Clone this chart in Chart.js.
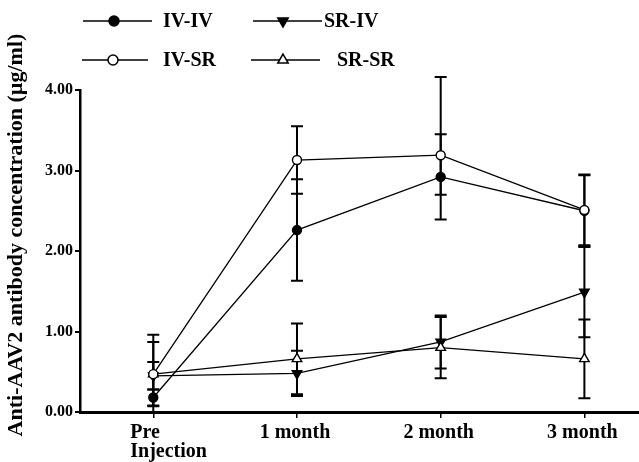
<!DOCTYPE html>
<html>
<head>
<meta charset="utf-8">
<script src="https://cdn.jsdelivr.net/npm/chart.js@4"></script>
<style>
  html, body { margin: 0; padding: 0; background: #fff; }
  #wrap { width: 639px; height: 462px; position: relative; }
</style>
</head>
<body>
<div id="wrap"><canvas id="myChart" width="639" height="462"></canvas></div>
<script>
'use strict';
//Data
const categories = [['Pre', 'Injection'], '1 month', '2 month', '3 month'];
const yTicks = [0, 1, 2, 3, 4];
const seriesNames = ['IV-IV', 'SR-IV', 'IV-SR', 'SR-SR'];
const ivIv = [0.18, 2.26, 2.92, 2.50];
const ivIvErr = [0.10, 0.63, 0.53, 0.44];
const srIv = [0.45, 0.48, 0.87, 1.49];
const srIvErr = [0.17, 0.28, 0.33, 0.56];
const ivSr = [0.47, 3.13, 3.19, 2.51];
const ivSrErrDown = [0.49, 0.42, 0.49, 0.44];
const ivSrErrUp = [0.49, 0.42, 0.97, 0.44];
const srSr = [0.47, 0.66, 0.80, 0.66];
const srSrErr = [0.40, 0.44, 0.38, 0.49];

const FONT = '"Liberation Serif", "Times New Roman", serif';
const chart_myChart = document.getElementById('myChart').getContext('2d');

function toPoints(values){
  return values.map((v, i) => ({x: i, y: v}));
}

function makeSet(label, values, errDown, errUp, style, fill, rotation, radius, order){
  return {
    label: label,
    data: toPoints(values),
    errDown: errDown,
    errUp: errUp,
    order: order,
    borderColor: '#000',
    borderWidth: 1.3,
    pointStyle: style,
    pointRotation: rotation,
    pointRadius: radius,
    pointBackgroundColor: fill,
    pointBorderColor: '#000',
    pointBorderWidth: 1.4,
    fill: false,
    tension: 0,
    clip: false
  };
}

//Error bars under the markers
const errorBars = {
  id: 'errorBars',
  beforeDatasetsDraw(chart){
    const ctx = chart.ctx;
    const xs = chart.scales.x;
    const ys = chart.scales.y;
    ctx.save();
    ctx.strokeStyle = '#000';
    ctx.lineWidth = 2;
    chart.data.datasets.forEach(ds => {
      ds.data.forEach((p, i) => {
        const low = p.y - ds.errDown[i];
        const x = xs.getPixelForValue(p.x);
        const top = ys.getPixelForValue(p.y + ds.errUp[i]);
        const bot = ys.getPixelForValue(Math.max(0, low));
        ctx.beginPath();
        ctx.moveTo(x, top);
        ctx.lineTo(x, bot);
        ctx.moveTo(x - 6, top);
        ctx.lineTo(x + 6, top);
        if (low > 0){
          ctx.moveTo(x - 6, bot);
          ctx.lineTo(x + 6, bot);
        }
        ctx.stroke();
      });
    });
    ctx.restore();
  }
};

//Legend, category labels and y title drawn by hand
const extras = {
  id: 'extras',
  afterDraw(chart){
    const ctx = chart.ctx;
    const sets = chart.data.datasets;
    const xs = chart.scales.x;
    const spots = [
      {x1: 83, x2: 152, mx: 114, y: 21, tx: 163},
      {x1: 253, x2: 322, mx: 283, y: 21, tx: 324},
      {x1: 82, x2: 148, mx: 113, y: 60, tx: 163},
      {x1: 251, x2: 320, mx: 283, y: 60, tx: 337}
    ];
    ctx.save();
    sets.forEach((ds, i) => {
      const s = spots[i];
      ctx.strokeStyle = '#000';
      ctx.lineWidth = 1.6;
      ctx.beginPath();
      ctx.moveTo(s.x1, s.y);
      ctx.lineTo(s.x2, s.y);
      ctx.stroke();
      ctx.fillStyle = ds.pointBackgroundColor;
      ctx.lineWidth = 1.5;
      Chart.helpers.drawPoint(ctx, {
        pointStyle: ds.pointStyle,
        rotation: ds.pointRotation,
        radius: ds.pointRadius + 0.5,
        borderWidth: 1.5
      }, s.mx, s.y);
      ctx.fillStyle = '#000';
      ctx.font = 'bold 20px ' + FONT;
      ctx.textBaseline = 'middle';
      ctx.textAlign = 'left';
      ctx.fillText(ds.label, s.tx, s.y + 1);
    });

    // category labels
    ctx.font = 'bold 20px ' + FONT;
    ctx.textBaseline = 'middle';
    ctx.fillStyle = '#000';
    categories.forEach((c, i) => {
      const x = xs.getPixelForValue(i);
      if (Array.isArray(c)){
        ctx.textAlign = 'left';
        ctx.fillText(c[0], x - 23, 433);
        ctx.fillText(c[1], x - 23, 452);
      } else {
        ctx.textAlign = 'center';
        ctx.fillText(c, x - 2, 433);
      }
    });

    ctx.translate(16, 235);
    ctx.rotate(-Math.PI / 2);
    ctx.font = 'bold 22px ' + FONT;
    ctx.textAlign = 'center';
    ctx.textBaseline = 'middle';
    ctx.fillText('Anti-AAV2 antibody concentration (\u00b5g/ml)', 0, 0);
    ctx.restore();
  }
};

const chart = new Chart(chart_myChart, {
  type: 'line',
  data: {
    datasets: [
      makeSet(seriesNames[0], ivIv, ivIvErr, ivIvErr, 'circle', '#000', 0, 4.5, 2),
      makeSet(seriesNames[1], srIv, srIvErr, srIvErr, 'triangle', '#000', 180, 5.5, 3),
      makeSet(seriesNames[2], ivSr, ivSrErrDown, ivSrErrUp, 'circle', '#fff', 0, 4.5, 0),
      makeSet(seriesNames[3], srSr, srSrErr, srSrErr, 'triangle', '#fff', 0, 5.5, 1)
    ]
  },
  options: {
    responsive: false,
    animation: false,
    layout: {autoPadding: false, padding: {top: 90, right: 0, left: 0, bottom: 0}},
    plugins: {legend: {display: false}, tooltip: {enabled: false}},
    scales: {
      x: {
        type: 'linear',
        min: -0.51,
        max: 3.38,
        afterBuildTicks(scale){
          scale.ticks = categories.map((c, i) => ({value: i}));
        },
        afterFit(scale){ scale.height = 50; },
        ticks: {display: false},
        grid: {display: true, drawOnChartArea: false, drawTicks: true, tickLength: 6, color: '#000', lineWidth: 1.5},
        border: {display: true, color: '#000', width: 3}
      },
      y: {
        min: 0,
        max: 4,
        afterBuildTicks(scale){
          scale.ticks = yTicks.map(v => ({value: v}));
        },
        afterFit(scale){ scale.width = 80; },
        ticks: {
          callback: (v) => v.toFixed(2),
          color: '#000',
          font: {family: FONT, size: 16, weight: 'bold'},
          padding: 2
        },
        grid: {display: true, drawOnChartArea: false, drawTicks: true, tickLength: 5, color: '#000', lineWidth: 2},
        border: {display: true, color: '#000', width: 2.5}
      }
    }
  },
  plugins: [errorBars, extras]
});
</script>
</body>
</html>
